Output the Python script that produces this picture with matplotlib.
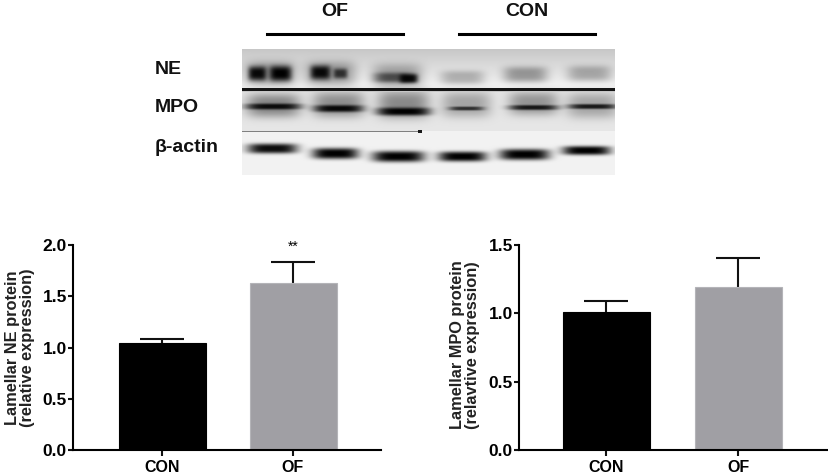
import numpy as np
import matplotlib
matplotlib.use("Agg")
import matplotlib.pyplot as plt

plt.rcParams['font.family'] = ['Liberation Sans', 'DejaVu Sans']
plt.rcParams['font.weight'] = 'bold'

W, H = 829, 475
categories = ["CON", "OF"]
ne_values = [1.047, 1.63]
ne_errors = [0.033, 0.205]
mpo_values = [1.012, 1.19]
mpo_errors = [0.078, 0.215]
ne_ticks = [0.0, 0.5, 1.0, 1.5, 2.0]
mpo_ticks = [0.0, 0.5, 1.0, 1.5]
bar_colors = ["#000000", "#a09fa4"]
ne_ylabel = "Lamellar NE protein\n(relative expression)"
mpo_ylabel = "Lamellar MPO protein\n(relavtive expression)"
blot_rows = ["NE", "MPO", "β-actin"]
blot_groups = ["OF", "CON"]

# band blobs in blot pixels: x, y, half width, half height, darkness
ne_bands = [(28,24,25,12,.35),(15,24,9,7,.95),(38,24,11,7.5,1),(78,23,10,7,.95),(98,24,7,5,.7),
            (88,24,25,12,.35),(155,26,25,12,.3),(152,28,20,5,.55),(166,29,9,4.5,.95),
            (220,28,22,7,.25),(283,25,22,8,.35),(347,24,22,8,.28)]
mpo_bands = [(31,56,27,12,.42),(31,57,27,3,.92),(96,55,26,13,.38),(96,59,24,3.5,.95),
             (161,55,26,14,.4),(161,62,26,4,1),(224,55,25,13,.28),(224,59,17,2,.72),
             (291,54,25,12,.35),(291,58,24,2.5,.85),(350,56,26,13,.28),(350,57,24,2.5,.85)]
actin_bands = [(30,99,25,5,.95),(93,104,23,5.5,1),(156,107,26,5.5,1),(220,107,24,5,1),
               (282,105,25,5.5,1),(344,101,24,4.5,1)]


def blot_image():
    h, w = 126, 373
    yy, xx = np.mgrid[0:h, 0:w]
    img = np.full((h, w), 0.93)
    img[:42] = (0.78 + 0.16 * np.clip(np.arange(42) / 34, 0, 1))[:, None]
    img[43:82] = 0.90
    img[82:] = 0.95
    dark = np.zeros((h, w))
    for x0, y0, sx, sy, d in ne_bands + mpo_bands + actin_bands:
        blob = d * np.exp(-(np.abs(xx - x0) / sx) ** 4 - (np.abs(yy - y0) / sy) ** 3)
        dark = 1 - (1 - dark) * (1 - blob)
    img = img * (1 - dark)
    img[39:42] = 0.08
    img[42:43] = 0.78
    img[82:83, :178] = 0.5
    img[81:84, 176:180] = 0.1
    return img


fig = plt.figure(figsize=(W / 100, H / 100), dpi=100)


def px_axes(x0, y0, x1, y1):
    return fig.add_axes([x0 / W, 1 - y1 / H, (x1 - x0) / W, (y1 - y0) / H])


# Blot
ab = px_axes(242, 49, 615, 175)
ab.imshow(blot_image(), cmap="gray", vmin=0, vmax=1, aspect="auto", interpolation="bilinear")
ab.axis("off")

for name, y in zip(blot_rows, [70, 108, 147]):
    fig.text(155 / W, 1 - y / H, name, fontsize=14, ha="left", va="center", color="#111111")
for name, x in zip(blot_groups, [335, 527]):
    fig.text(x / W, 1 - 11.5 / H, name, fontsize=14, ha="center", va="center", color="#111111")
for x0, x1 in [(267, 403), (459, 595)]:
    fig.add_artist(plt.Line2D([x0 / W, x1 / W], [1 - 33.5 / H] * 2, color="black", lw=2.2))


def bar_panel(x0, x1, centers_px, values, errors, ticks, ymax, ylabel, label_x, label_y):
    ax = px_axes(x0, 245, x1, 450)
    sp = centers_px[1] - centers_px[0]
    ax.set_xlim((x0 - centers_px[0]) / sp, (x1 - centers_px[0]) / sp)
    ax.set_ylim(0, ymax)
    pos = np.arange(len(values))
    tops = np.array(values) + np.array(errors)
    ax.vlines(pos, values, tops, color="#111111", lw=1.5, zorder=2)
    ax.plot(pos, tops, ls="none", marker="_", ms=31, mew=1.5, color="#111111", zorder=2)
    ax.bar(pos, values, width=87 / sp, color=bar_colors, edgecolor=["#000000", "#b4b4b8"], linewidth=0.8, zorder=3)
    for s in ("top", "right"):
        ax.spines[s].set_visible(False)
    for s in ("left", "bottom"):
        ax.spines[s].set_linewidth(1.5)
        ax.spines[s].set_zorder(4)
    ax.set_xticks(pos, categories)
    ax.set_yticks(ticks, [f"{t:.1f}" for t in ticks])
    ax.tick_params(axis="x", width=1.5, length=4, labelsize=11.5, pad=3, color="#111111")
    ax.tick_params(axis="y", width=1.5, length=3.5, labelsize=12.5, pad=1, color="#111111")
    fig.text(label_x / W, 1 - label_y / H, ylabel, rotation=90, fontsize=11.8, ha="center", va="center",
             linespacing=1.05, multialignment="center", color="#222222")
    return ax


a1 = bar_panel(73, 381, (162, 293), ne_values, ne_errors, ne_ticks, 2.0, ne_ylabel, 20, 348)
a1.text(1, 1.985, "**", fontsize=10, ha="center", va="center", fontweight="normal")
bar_panel(519, 827, (606, 738), mpo_values, mpo_errors, mpo_ticks, 1.5, mpo_ylabel, 465, 345)

fig.savefig("out.png", dpi=100)
